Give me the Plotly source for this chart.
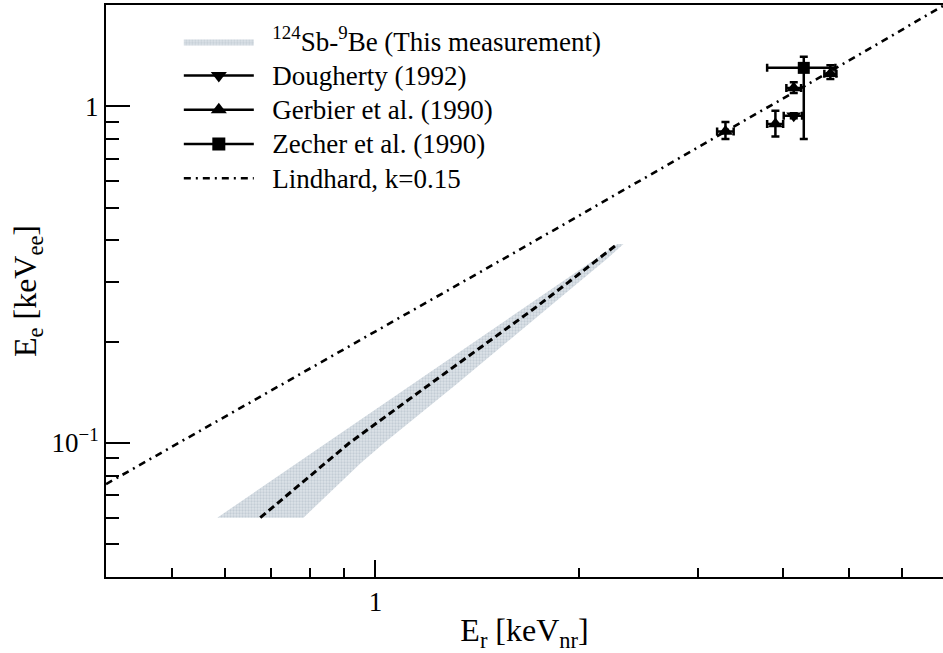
import numpy as np
import plotly.graph_objects as go

# ---------------- data ----------------
# 124Sb-9Be band: for each Ee value, Er lower edge / central / upper edge
band_ee = [0.06, 0.087, 0.10, 0.15, 0.20, 0.25, 0.30, 0.35, 0.39]
band_er_low = [0.584, 0.765, 0.846, 1.137, 1.400, 1.647, 1.881, 2.104, 2.277]
band_er_mid = [0.676, 0.843, 0.915, 1.206, 1.469, 1.712, 1.927, 2.130, 2.278]
band_er_high = [0.783, 0.950, 1.030, 1.320, 1.565, 1.790, 1.995, 2.190, 2.325]

# Dougherty (1992)
dough_er = [4.149]
dough_er_lo = [4.010]
dough_er_hi = [4.268]
dough_ee = [0.938]
dough_ee_lo = [0.922]
dough_ee_hi = [0.954]

# Gerbier et al. (1990)
gerb_er = [3.289, 3.898, 4.149, 4.699]
gerb_er_lo = [3.197, 3.790, 4.046, 4.604]
gerb_er_hi = [3.382, 4.002, 4.254, 4.797]
gerb_ee = [0.8425, 0.886, 1.134, 1.249]
gerb_ee_lo = [0.800, 0.814, 1.096, 1.206]
gerb_ee_hi = [0.899, 0.971, 1.179, 1.325]

# Zecher et al. (1990)
zech_er = [4.293]
zech_er_lo = [3.790]
zech_er_hi = [4.780]
zech_ee = [1.301]
zech_ee_lo = [0.800]
zech_ee_hi = [1.403]

# Lindhard, k=0.15
lind_er = [0.4, 0.6, 0.8, 1.0, 1.5, 2.0, 3.0, 4.0, 5.0, 7.0]
lind_ee = [0.0755, 0.1197, 0.1661, 0.2142, 0.3405, 0.4737, 0.7555, 1.054, 1.366, 2.024]

# axis ticks
x_major = [1]
x_major_text = ["1"]
x_minor = [0.5, 0.6, 0.7, 0.8, 0.9, 2, 3, 4, 5, 6]
y_major = [0.1, 1]
y_major_text = ["10<sup>\u22121</sup>", "1"]
y_minor = [0.05, 0.06, 0.07, 0.08, 0.09, 0.2, 0.3, 0.4, 0.5, 0.6, 0.7, 0.8, 0.9]

FONT = "Liberation Serif, Times New Roman, DejaVu Serif, serif"


def label(text):
    # legend text: larger glyphs than the legend row spacing
    return '<span style="font-size:27px">\u00a0\u00a0' + text + "</span>"


def diff(a, b):
    return [x - y for x, y in zip(a, b)]


fig = go.Figure()

# band
fig.add_trace(go.Scatter(
    x=band_er_low + band_er_high[::-1],
    y=band_ee + band_ee[::-1],
    fill="toself", mode="lines",
    line=dict(width=0, color="rgba(0,0,0,0)"),
    fillcolor="#ccd4db",
    fillpattern=dict(shape=".", fgcolor="#a9b6c2", bgcolor="#dde3e8", size=3, solidity=0.45),
    name=label("<sup>124</sup>Sb-<sup>9</sup>Be (This measurement)"),
    legendrank=1,
))
# central dashed line
fig.add_trace(go.Scatter(
    x=band_er_mid, y=band_ee, mode="lines",
    line=dict(color="black", width=3, dash="7px,4px"),
    showlegend=False,
))

# Lindhard
fig.add_trace(go.Scatter(
    x=lind_er, y=lind_ee, mode="lines",
    line=dict(color="black", width=2.6, dash="7px,5px,2px,5px"),
    name=label("Lindhard, k=0.15"), legendrank=5,
))


def points(xs, xlo, xhi, ys, ylo, yhi, symbol, size):
    return go.Scatter(
        x=xs, y=ys, mode="markers",
        marker=dict(symbol=symbol, size=size, color="black"),
        error_x=dict(type="data", symmetric=False, array=diff(xhi, xs), arrayminus=diff(xs, xlo),
                     color="black", thickness=2.5, width=4),
        error_y=dict(type="data", symmetric=False, array=diff(yhi, ys), arrayminus=diff(ys, ylo),
                     color="black", thickness=2.5, width=4),
        showlegend=False,
    )


fig.add_trace(points(dough_er, dough_er_lo, dough_er_hi, dough_ee, dough_ee_lo, dough_ee_hi, "triangle-down", 13))
fig.add_trace(points(gerb_er, gerb_er_lo, gerb_er_hi, gerb_ee, gerb_ee_lo, gerb_ee_hi, "triangle-up", 13))
fig.add_trace(points(zech_er, zech_er_lo, zech_er_hi, zech_ee, zech_ee_lo, zech_ee_hi, "square", 12))

# legend entries (line + marker)
for name, sym, size, rank in [("Dougherty (1992)", "triangle-down", 14, 2),
                              ("Gerbier et al. (1990)", "triangle-up", 14, 3),
                              ("Zecher et al. (1990)", "square", 13, 4)]:
    fig.add_trace(go.Scatter(
        x=[None], y=[None], mode="lines+markers",
        line=dict(color="black", width=2.5),
        marker=dict(symbol=sym, size=size, color="black"),
        name=label(name), legendrank=rank,
    ))

x_range = [np.log10(0.4), np.log10(0.4) + 837 / 677]
y_range = [np.log10(0.04), np.log10(2.0)]

fig.update_layout(
    width=943, height=653,
    margin=dict(l=106, r=0, t=5, b=76),
    paper_bgcolor="white", plot_bgcolor="white",
    font=dict(family=FONT, color="black", size=26),
    showlegend=True,
    legend=dict(
        x=0.087, y=0.975, xanchor="left", yanchor="top",
        bgcolor="rgba(0,0,0,0)", borderwidth=0,
        font=dict(family=FONT, size=24, color="black"),
        itemwidth=70, traceorder="normal",
    ),
    xaxis=dict(
        type="log", range=x_range,
        showgrid=False, zeroline=False,
        showline=True, linecolor="black", linewidth=2, mirror=True,
        ticks="inside", ticklen=17, tickwidth=2, tickcolor="black",
        tickmode="array", tickvals=x_major, ticktext=x_major_text,
        tickfont=dict(family=FONT, size=27),
        minor=dict(ticks="inside", ticklen=9, tickwidth=2, tickcolor="black",
                   tickmode="array", tickvals=x_minor, showgrid=False),
        title=dict(text="E<sub>r</sub> [keV<sub>nr</sub>]", font=dict(family=FONT, size=32), standoff=6),
    ),
    yaxis=dict(
        type="log", range=y_range,
        showgrid=False, zeroline=False,
        showline=True, linecolor="black", linewidth=2, mirror=False,
        ticks="inside", ticklen=24, tickwidth=2, tickcolor="black",
        tickmode="array", tickvals=y_major, ticktext=y_major_text,
        tickfont=dict(family=FONT, size=27),
        minor=dict(ticks="inside", ticklen=13, tickwidth=2, tickcolor="black",
                   tickmode="array", tickvals=y_minor, showgrid=False),
        title=dict(text="E<sub>e</sub> [keV<sub>ee</sub>]", font=dict(family=FONT, size=32), standoff=5),
    ),
)

fig.write_html("out.html")
